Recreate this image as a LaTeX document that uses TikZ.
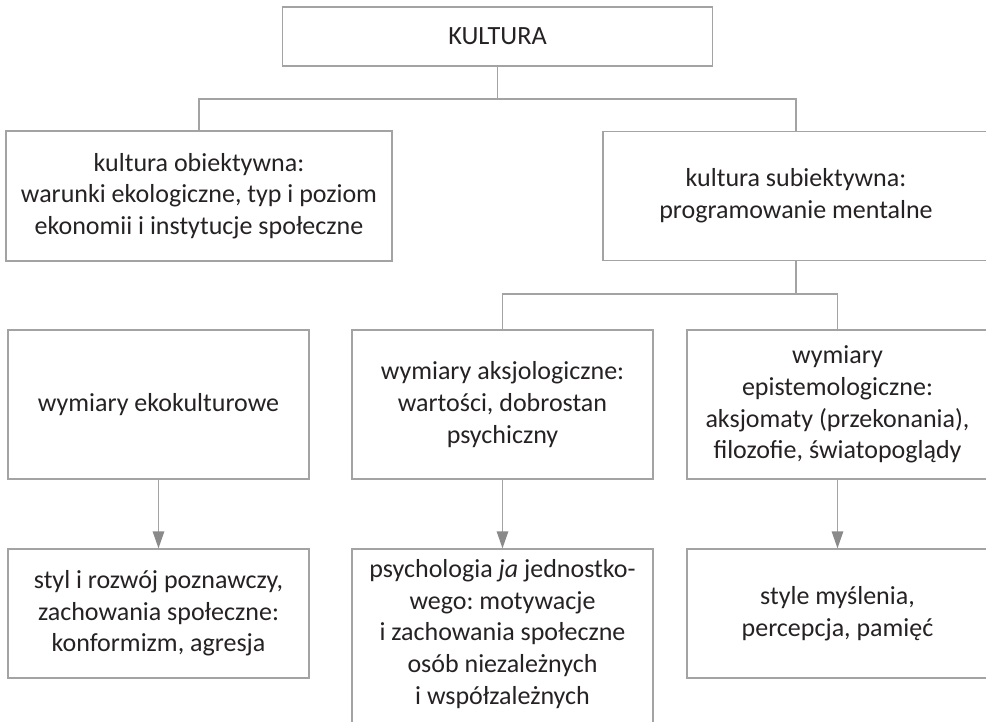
\documentclass[tikz,border=0pt]{standalone}
\usepackage{fontspec}
\setmainfont{Carlito}
\usetikzlibrary{arrows.meta}
\frenchspacing

\definecolor{linegray}{RGB}{163,163,163}
\definecolor{tipgray}{RGB}{138,138,138}
\definecolor{textdark}{RGB}{38,34,35}

\tikzset{
  box/.style={draw=linegray, line width=1.3pt, rectangle, inner sep=0pt,
    align=center, text=textdark,
    font=\fontsize{26}{31.7}\selectfont},
  plaintext/.style={inner sep=0pt, align=center, text=textdark,
    font=\fontsize{26}{31.7}\selectfont},
  conn/.style={draw=linegray, line width=1.3pt},
  arr/.style={draw=linegray, line width=1.3pt,
    -{Triangle[length=17pt, width=11.5pt, color=tipgray, fill=tipgray]}},
}

\begin{document}
\begin{tikzpicture}[x=1pt, y=-1pt]
  \useasboundingbox (0,0) rectangle (986,722);
  \fill[white] (0,0) rectangle (986,722);
  \clip (0,0) rectangle (986,722);

  % top level
  \node[box, minimum width=430pt, minimum height=59pt,
        font=\fontsize{26.3}{31.7}\selectfont] (kultura) at (497.5,36.5) {KULTURA};

  % second level
  \node[box, minimum width=386pt, minimum height=130pt] (obj) at (199,196)
    {kultura obiektywna:\\warunki ekologiczne, typ i poziom\\ekonomii i instytucje społeczne};
  \node[box, minimum width=386pt, minimum height=129pt] (subj) at (796,196)
    {kultura subiektywna:\\programowanie mentalne};

  % dimensions
  \node[box, minimum width=301pt, minimum height=149pt] (eko) at (158.5,404.5)
    {wymiary ekokulturowe};
  \node[box, minimum width=301pt, minimum height=149pt] (aks) at (502.5,404.5)
    {wymiary aksjologiczne:\\wartości, dobrostan\\psychiczny};
  \node[box, minimum width=301pt, minimum height=149pt] (epi) at (837.5,404.5)
    {wymiary\\epistemologiczne:\\aksjomaty (przekonania),\\filozofie, światopoglądy};

  % consequences
  \node[box, minimum width=301pt, minimum height=129pt] (sty) at (158.5,613.5)
    {styl i rozwój poznawczy,\\zachowania społeczne:\\konformizm, agresja};
  \node[box, minimum width=301pt, minimum height=220pt] (psybox) at (502.5,659) {};
  \node[plaintext] (psy) at (502.5,634)
    {psychologia \textit{ja} jednostko-\\wego: motywacje\\i zachowania społeczne\\osób niezależnych\\i współzależnych};
  \node[box, minimum width=301pt, minimum height=129pt] (mys) at (837.5,613.5)
    {style myślenia,\\percepcja, pamięć};

  % tree connectors
  \coordinate (j1) at (497.5,99);
  \draw[conn] (kultura.south) -- (j1);
  \draw[conn] (obj.north) |- (j1) -| (subj.north);

  \coordinate (j2) at (796,294);
  \draw[conn] (subj.south) -- (j2);
  \draw[conn] (aks.north) |- (j2) -| (epi.north);

  % arrows
  \draw[arr] (eko.south) -- (sty.north);
  \draw[arr] (aks.south) -- (psybox.north);
  \draw[arr] (epi.south) -- (mys.north);
\end{tikzpicture}
\end{document}
